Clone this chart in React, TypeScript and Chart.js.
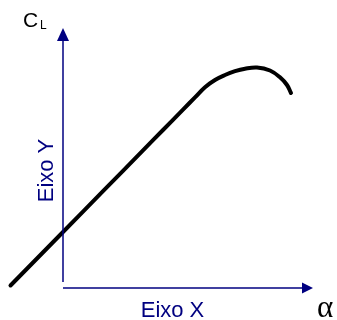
import React, { useEffect, useRef } from "react";
import { Chart, registerables } from "chart.js";

Chart.register(...registerables);

// Angle of attack (alpha) and lift coefficient (CL)
const alpha = [-5.25, 0, 4, 8, 10, 12, 13.2, 14.2, 15.2, 16.2, 17.2, 18.2, 19.4, 20.7, 21.7, 22.4, 22.8];
const cl = [0.025, 0.56, 0.968, 1.376, 1.58, 1.784, 1.906, 2.008, 2.08, 2.13, 2.168, 2.193, 2.205, 2.175, 2.107, 2.03, 1.95];

const xAxisLabel = "Eixo X";
const yAxisLabel = "Eixo Y";
const xSymbol = "α";
const ySymbol = "C";
const ySub = "L";

// axis extents in data units
const xAxisEnd = 25;
const yAxisTop = 2.6;

const NAVY = "#000080";

const axesPlugin = {
  id: "arrowAxes",
  afterDatasetsDraw(chart: any) {
    const ctx = chart.ctx;
    const xs = chart.scales.x;
    const ys = chart.scales.y;
    const ox = xs.getPixelForValue(0);
    const oy = ys.getPixelForValue(0);
    const xEnd = xs.getPixelForValue(xAxisEnd);
    const yTop = ys.getPixelForValue(yAxisTop);
    ctx.save();
    ctx.strokeStyle = NAVY;
    ctx.fillStyle = NAVY;
    ctx.lineWidth = 1.5;
    // Y axis
    ctx.beginPath();
    ctx.moveTo(ox, oy - 6);
    ctx.lineTo(ox, yTop + 12);
    ctx.stroke();
    ctx.beginPath();
    ctx.moveTo(ox, yTop);
    ctx.lineTo(ox - 6, yTop + 13);
    ctx.lineTo(ox + 6, yTop + 13);
    ctx.closePath();
    ctx.fill();
    // X axis
    ctx.beginPath();
    ctx.moveTo(ox, oy);
    ctx.lineTo(xEnd - 10, oy);
    ctx.stroke();
    ctx.beginPath();
    ctx.moveTo(xEnd, oy);
    ctx.lineTo(xEnd - 11, oy - 5.5);
    ctx.lineTo(xEnd - 11, oy + 5.5);
    ctx.closePath();
    ctx.fill();

    // Axis labels
    ctx.font = "22px 'Liberation Sans', Arial, sans-serif";
    ctx.textAlign = "center";
    ctx.textBaseline = "alphabetic";
    ctx.fillText(xAxisLabel, (ox + xEnd) / 2 - 15.5, oy + 29);
    ctx.save();
    ctx.translate(ox - 10, 170.5);
    ctx.rotate(-Math.PI / 2);
    ctx.fillText(yAxisLabel, 0, 0);
    ctx.restore();

    // Symbols
    ctx.fillStyle = "#000";
    ctx.textAlign = "left";
    ctx.font = "21px 'Liberation Sans', Arial, sans-serif";
    ctx.fillText(ySymbol, ox - 40, yTop - 1);
    ctx.font = "12px 'Liberation Sans', Arial, sans-serif";
    ctx.fillText(ySub, ox - 23, yTop + 1.3);
    ctx.font = "31px 'Liberation Serif', 'Times New Roman', serif";
    ctx.fillText(xSymbol, xEnd + 4, oy + 29);
    ctx.restore();
  },
};

export default function App() {
  const ref = useRef<HTMLCanvasElement | null>(null);
  useEffect(() => {
    if (!ref.current) return;
    const chart = new Chart(ref.current, {
      type: "line",
      data: {
        datasets: [
          {
            data: alpha.map((a, i) => ({ x: a, y: cl[i] })),
            borderColor: "#000",
            borderWidth: 4,
            borderCapStyle: "round",
            borderJoinStyle: "round",
            pointRadius: 0,
            tension: 0.4,
            fill: false,
          },
        ],
      },
      options: {
        animation: false,
        responsive: false,
        maintainAspectRatio: false,
        layout: { padding: 0 },
        plugins: { legend: { display: false }, tooltip: { enabled: false }, title: { display: false } },
        scales: {
          x: { type: "linear", display: false, min: -6.3, max: 27.4 },
          y: { type: "linear", display: false, min: -0.32, max: 2.88 },
        },
      },
      plugins: [axesPlugin],
    });
    return () => chart.destroy();
  }, []);
  return (
    <div style={{ position: "fixed", left: 0, top: 0, width: 337, height: 320, background: "#fff" }}>
      <canvas ref={ref} width={337} height={320} style={{ display: "block", width: 337, height: 320 }} />
    </div>
  );
}
